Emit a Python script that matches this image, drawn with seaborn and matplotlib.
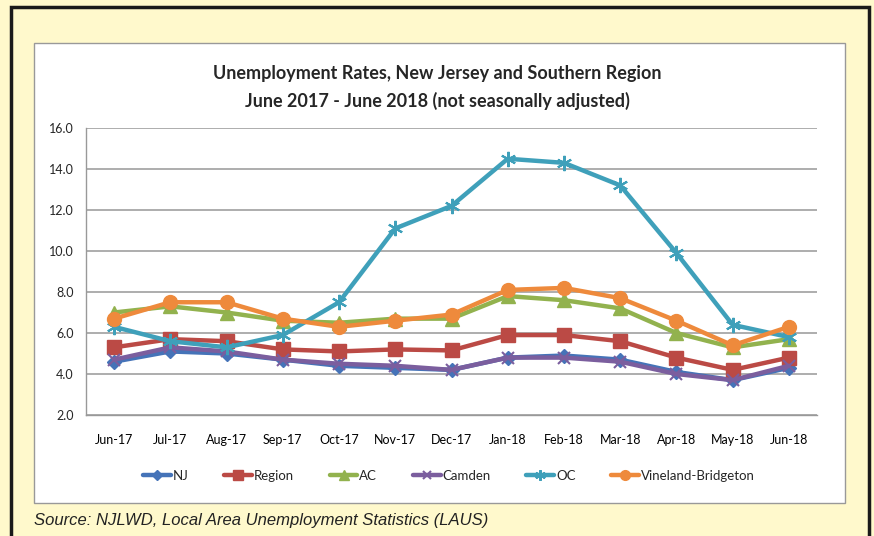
import numpy as np
import pandas as pd
import matplotlib
matplotlib.use("Agg")
import matplotlib.pyplot as plt
import seaborn as sns
from matplotlib.patches import Rectangle

months = ["Jun-17", "Jul-17", "Aug-17", "Sep-17", "Oct-17", "Nov-17", "Dec-17",
          "Jan-18", "Feb-18", "Mar-18", "Apr-18", "May-18", "Jun-18"]

nj = [4.6, 5.1, 5.0, 4.7, 4.4, 4.3, 4.2, 4.8, 4.9, 4.7, 4.1, 3.7, 4.3]
region = [5.3, 5.7, 5.6, 5.2, 5.1, 5.2, 5.15, 5.9, 5.9, 5.6, 4.8, 4.2, 4.8]
ac = [7.0, 7.3, 7.0, 6.6, 6.5, 6.7, 6.7, 7.8, 7.6, 7.2, 6.0, 5.3, 5.7]
camden = [4.7, 5.3, 5.1, 4.7, 4.5, 4.4, 4.2, 4.8, 4.8, 4.6, 4.0, 3.7, 4.4]
oc = [6.3, 5.6, 5.3, 5.9, 7.5, 11.1, 12.2, 14.5, 14.3, 13.2, 9.9, 6.4, 5.8]
vineland = [6.7, 7.5, 7.5, 6.7, 6.3, 6.6, 6.9, 8.1, 8.2, 7.7, 6.6, 5.4, 6.3]

series_names = ["NJ", "Region", "AC", "Camden", "OC", "Vineland-Bridgeton"]
series_values = [nj, region, ac, camden, oc, vineland]

colors = {"NJ": "#4573B8", "Region": "#BB4A45", "AC": "#92B24E",
          "Camden": "#7B5E9E", "OC": "#3FA0BA", "Vineland-Bridgeton": "#EE8A3C"}
markers = {"NJ": "D", "Region": "s", "AC": "^", "Camden": "x",
           "OC": (6, 2, 0), "Vineland-Bridgeton": "o"}
sizes = {"NJ": 7, "Region": 10, "AC": 10, "Camden": 8, "OC": 11, "Vineland-Bridgeton": 10}

rows = []
for name, vals in zip(series_names, series_values):
    for i, v in enumerate(vals):
        rows.append({"pos": i, "month": months[i], "rate": v, "series": name})
df = pd.DataFrame(rows)

sns.set_style("white")
plt.rcParams["font.family"] = ["Lato", "DejaVu Sans"]

fig = plt.figure(figsize=(8.74, 5.36), dpi=100)
fig.patch.set_facecolor("#FFF9CC")

# outer black frame and white chart box
fig.add_artist(Rectangle((11 / 874, -0.01), (869 - 11) / 874, 1 - 7 / 536 + 0.01,
                         transform=fig.transFigure, fill=False, edgecolor="#1a1a1a", lw=2.5))
fig.add_artist(Rectangle((34 / 874, 1 - 503 / 536), (845 - 34) / 874, (503 - 43) / 536,
                         transform=fig.transFigure, facecolor="white", edgecolor="#999999", lw=1,
                         zorder=0))

ax = fig.add_axes([86 / 874, 1 - 415 / 536, (817 - 86) / 874, (415 - 128) / 536])
ax.set_facecolor("none")

for name in series_names:
    sub = df[df["series"] == name]
    sns.lineplot(data=sub, x="pos", y="rate", ax=ax, color=colors[name], lw=3.2,
                 marker=markers[name], markersize=sizes[name], markeredgecolor=colors[name],
                 markeredgewidth=1.5 if name in ("Camden", "OC") else 1,
                 label=name, zorder=3)

ax.set_xlim(-0.5, 12.5)
ax.set_ylim(2, 16)
ax.set_yticks(np.arange(2, 16.1, 2))
ax.set_yticklabels([f"{v:.1f}" for v in np.arange(2, 16.1, 2)])
ax.set_xticks(range(len(months)))
ax.set_xticklabels(months)
ax.set_xticks(np.arange(-0.5, 13, 1), minor=True)
ax.tick_params(axis="x", which="major", length=0, pad=14, labelsize=9, colors="black")
ax.tick_params(axis="x", which="minor", length=5, color="#999999", direction="out")
ax.tick_params(axis="y", length=5, color="#999999", direction="out", labelsize=9, pad=4)
ax.grid(axis="y", color="#A0A0A0", lw=1.2)
ax.set_axisbelow(True)
for s in ["top", "right"]:
    ax.spines[s].set_visible(False)
for s in ["left", "bottom"]:
    ax.spines[s].set_color("#999999")
    ax.spines[s].set_linewidth(1)
ax.set_xlabel("")
ax.set_ylabel("")

handles, labels = ax.get_legend_handles_labels()
ax.get_legend().remove()
fig.legend(handles, labels, loc="center", bbox_to_anchor=(449 / 874, 1 - 476 / 536), ncol=6,
           frameon=False, fontsize=9.5, handlelength=2.1, columnspacing=2.7, handletextpad=0.15,
           markerscale=0.7)

fig.text(0.5, 1 - 73 / 536, "Unemployment Rates, New Jersey and Southern Region",
         ha="center", va="center", fontsize=13, fontweight="bold")
fig.text(0.5, 1 - 101 / 536, "June 2017 - June 2018 (not seasonally adjusted)",
         ha="center", va="center", fontsize=13, fontweight="bold")
fig.text(34 / 874, 1 - 521 / 536, "Source: NJLWD, Local Area Unemployment Statistics (LAUS)",
         ha="left", va="center", fontsize=12, style="italic", family=["Liberation Sans", "DejaVu Sans"],
         color="#222222")

fig.savefig("out.png", dpi=100, facecolor=fig.get_facecolor())
